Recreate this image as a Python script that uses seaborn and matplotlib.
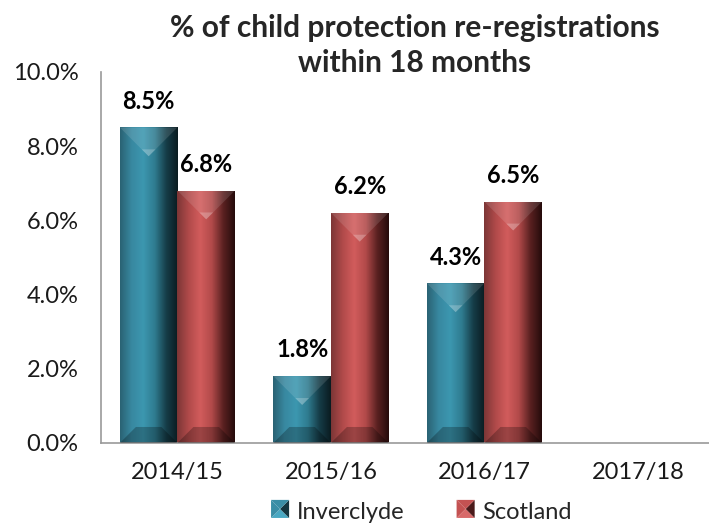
import numpy as np
import pandas as pd
import matplotlib
matplotlib.use("Agg")
import matplotlib.pyplot as plt
import seaborn as sns
from matplotlib.colors import LinearSegmentedColormap
from matplotlib.patches import Polygon, Patch
from matplotlib.legend_handler import HandlerBase

# --- DATEN ---
years = ["2014/15", "2015/16", "2016/17", "2017/18"]
inverclyde = [8.5, 1.8, 4.3, np.nan]
scotland = [6.8, 6.2, 6.5, np.nan]
series = ["Inverclyde", "Scotland"]

df = pd.DataFrame({
    "Year": years * 2,
    "Area": ["Inverclyde"] * 4 + ["Scotland"] * 4,
    "Value": inverclyde + scotland,
})

# Farbverlaeufe (links -> rechts) fuer den "Bevel"-Look
grad = {
    "Inverclyde": ["#2a6273", "#3888a0", "#3c97b0", "#2f7c90", "#163d48", "#0a1b20"],
    "Scotland": ["#7c3636", "#b04a4a", "#d25c5c", "#b24a4a", "#5a2121", "#250b0b"],
}
mid = {"Inverclyde": "#3a8ea6", "Scotland": "#c45252"}
dark = {"Inverclyde": "#143640", "Scotland": "#4a1a1a"}
light = {"Inverclyde": "#4aa8c2", "Scotland": "#d86a6a"}


class BevelHandler(HandlerBase):
    """Kleines Pyramiden-Quadrat fuer die Legende"""
    def create_artists(self, legend, orig_handle, xd, yd, w, h, fontsize, trans):
        name = orig_handle.get_label()
        s = h
        x0, y0 = xd + (w - s) / 2 - xd * 2, yd
        c = (x0 + s / 2, y0 + s / 2)
        corners = [(x0, y0), (x0 + s, y0), (x0 + s, y0 + s), (x0, y0 + s)]
        cols = [light[name], dark[name], mid[name], mid[name]]
        arts = []
        for i, col in enumerate(cols):
            p = Polygon([corners[i], corners[(i + 1) % 4], c], closed=True,
                        facecolor=col, lw=0, transform=trans)
            arts.append(p)
        return arts


sns.set_theme(style="white")
plt.rcParams["font.family"] = ["Lato", "DejaVu Sans"]

fig = plt.figure(figsize=(7.09, 5.28), dpi=100)
ax = fig.add_axes([0.142, 0.161, 0.866, 0.703])

sns.barplot(data=df, x="Year", y="Value", hue="Area", order=years,
            hue_order=series, palette=mid, width=0.75, ax=ax, legend=False,
            errorbar=None, saturation=1)

ax.set_xlim(-0.5, 3.5)
ax.set_ylim(0, 10)
ax.set_yticks([0, 2, 4, 6, 8, 10])
ax.set_yticklabels([f"{v:.1f}%" for v in [0, 2, 4, 6, 8, 10]])
ax.set_xlabel("")
ax.set_ylabel("")
ax.tick_params(axis="both", length=0, labelsize=17, colors="#1a1a1a")
ax.tick_params(axis="y", pad=16)
ax.tick_params(axis="x", pad=14)
for s in ["top", "right"]:
    ax.spines[s].set_visible(False)
for s in ["left", "bottom"]:
    ax.spines[s].set_color("#999999")
    ax.spines[s].set_linewidth(1.2)

fig.canvas.draw()
bb = ax.get_window_extent()
px_x = 4.0 / bb.width      # Datenbreite pro Pixel
px_y = 10.0 / bb.height
bot_px = 16

for cont, name in zip(ax.containers, series):
    cmap = LinearSegmentedColormap.from_list(name, grad[name])
    for bar, val in zip(cont, cont.datavalues):
        if not np.isfinite(val) or val <= 0:
            continue
        x0, w = bar.get_x(), bar.get_width()
        x1, y0, y1 = x0 + w, 0, val
        bar.set_facecolor("none")
        im = ax.imshow(np.linspace(0, 1, 256)[None, :], cmap=cmap, aspect="auto",
                       extent=[x0, x1, y0, y1], zorder=2, interpolation="bilinear")
        im.set_clip_path(bar)
        half_w = (w / px_x) / 2
        half_h = (val / px_y) / 2
        bt = min(half_w, half_h)          # oberes Dreieck
        bb_ = min(bot_px, half_h)         # unteres Trapez
        apex = (x0 + w / 2, y1 - bt * px_y)
        top = Polygon([(x0, y1), (x1, y1), apex],
                      closed=True, facecolor="white", alpha=0.12, lw=0, zorder=3)
        tip = Polygon([(x0 + w * 0.38, y1 - bt * px_y * 0.76), (x1 - w * 0.38, y1 - bt * px_y * 0.76),
                       apex],
                      closed=True, facecolor="white", alpha=0.22, lw=0, zorder=3)
        bx = min(bb_ * px_x, w / 2)
        bot = Polygon([(x0, y0), (x1, y0), (x1 - bx, y0 + bb_ * px_y), (x0 + bx, y0 + bb_ * px_y)],
                      closed=True, facecolor="black", alpha=0.25, lw=0, zorder=3)
        ax.add_patch(top)
        ax.add_patch(tip)
        ax.add_patch(bot)
        ax.text(x0 + w / 2, val + 0.4, f"{val:.1f}%", ha="center", va="bottom",
                fontsize=17, fontweight="bold", color="black", zorder=4)

ax.set_xlim(-0.5, 3.5)
ax.set_ylim(0, 10)

fig.text(0.585, 0.914, "% of child protection re-registrations\nwithin 18 months",
         ha="center", va="center", fontsize=21.5, fontweight="bold", linespacing=1.3)

handles = [Patch(facecolor=mid[s], edgecolor="none", label=s) for s in series]
fig.legend(handles, series, loc="center", bbox_to_anchor=(0.594, 0.03), ncol=2,
           frameon=False, fontsize=17, handlelength=0.8, handleheight=0.8,
           handletextpad=0.3, columnspacing=2.2,
           handler_map={Patch: BevelHandler()})

fig.savefig("out.png", dpi=100)
